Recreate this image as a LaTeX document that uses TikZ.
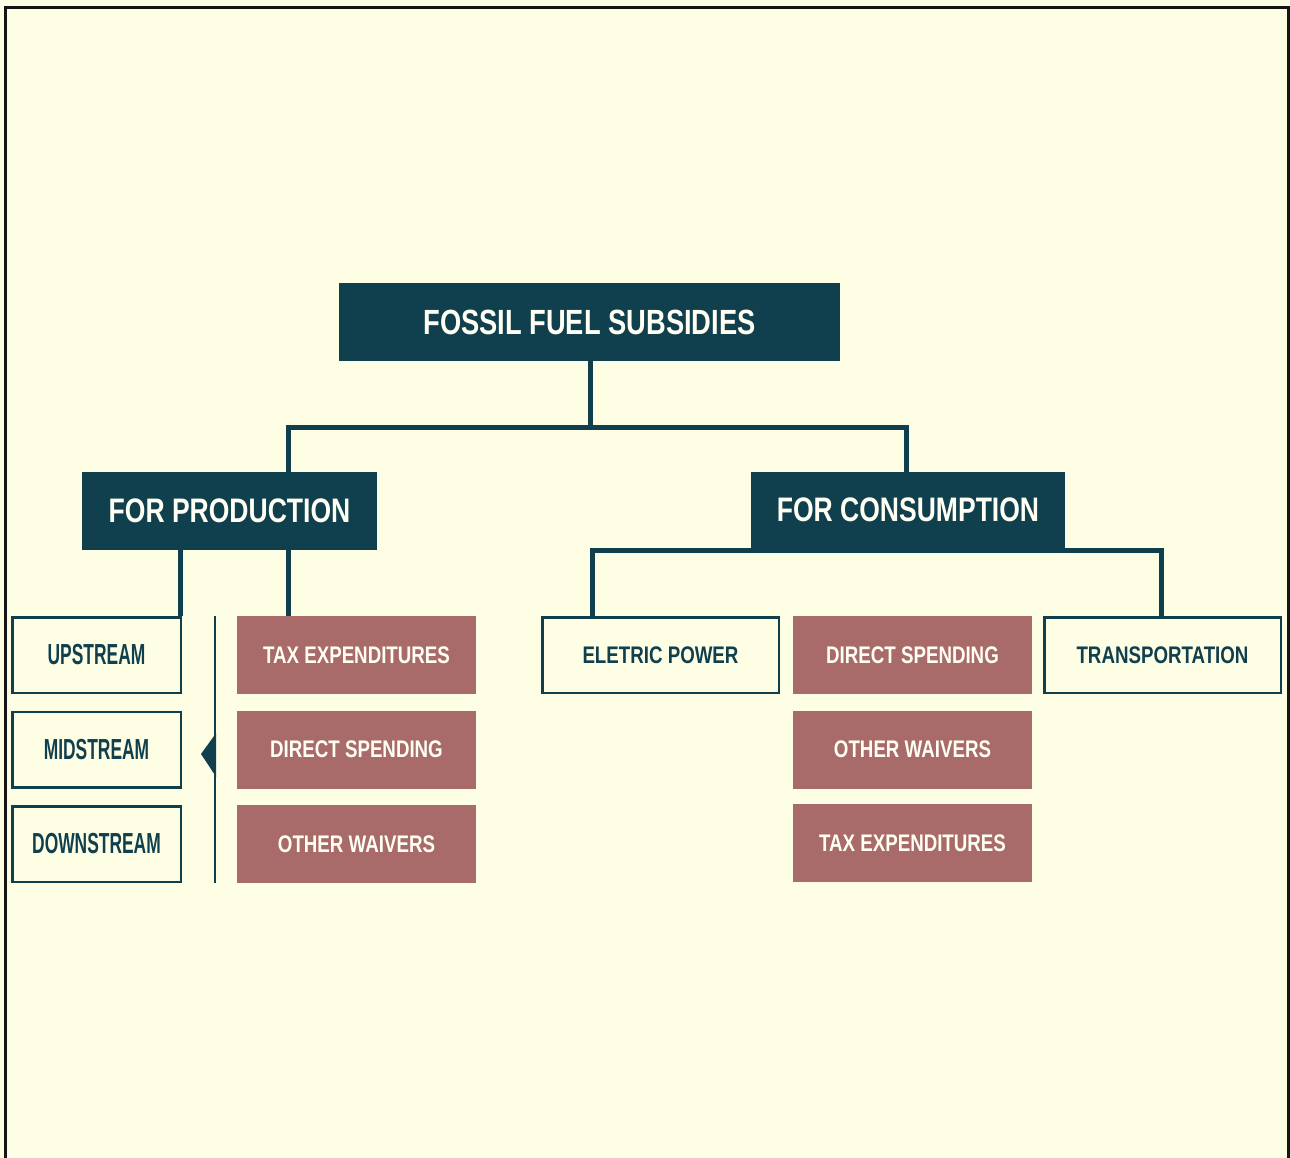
\documentclass[tikz,border=0pt]{standalone}
\usepackage{fontspec}
\setmainfont{Liberation Sans}
\newfontfamily\hfont{Liberation Sans}[FakeStretch=0.78]
\newfontfamily\dfont{Liberation Sans}[FakeStretch=0.6]
\definecolor{teal}{HTML}{10404E}
\definecolor{rose}{HTML}{A96B69}
\definecolor{bgc}{HTML}{FEFEE5}
\definecolor{framec}{HTML}{151515}
\definecolor{txtw}{HTML}{FFFFF4}
\tikzset{
  hdr/.style={fill=teal, text=txtw, inner sep=0, minimum height=78,
    font=\hfont\bfseries\fontsize{34}{40}\selectfont},
  rosebox/.style={fill=rose, text=txtw, inner sep=0, minimum width=239, minimum height=78,
    font=\hfont\bfseries\fontsize{24}{28}\selectfont},
  outbox/.style={draw=teal, line width=2.5, fill=bgc, text=teal, inner sep=0,
    minimum width=236.5, minimum height=75.5,
    font=\hfont\bfseries\fontsize{24}{28}\selectfont},
  streambox/.style={draw=teal, line width=2.5, fill=bgc, text=teal, inner sep=0,
    minimum width=168.5, minimum height=75.5,
    font=\dfont\bfseries\fontsize{29}{34}\selectfont},
  conn/.style={draw=teal, line width=5, line join=miter},
  thin/.style={draw=teal, line width=2.5},
}
\begin{document}
\begin{tikzpicture}[x=1pt, y=-1pt]
\useasboundingbox (0,0) rectangle (1290,1158);
\fill[bgc] (0,0) rectangle (1290,1158);
\draw[framec, line width=3] (5,1160) -- (5,7.5) -- (1288,7.5) -- (1288,1160);

% junction coordinates
\coordinate (j1) at (590,427);
\coordinate (jL) at (288,427);
\coordinate (jR) at (906,427);
\coordinate (pu) at (180,550);
\coordinate (cL) at (592,550);
\coordinate (cR) at (1161,550);
\coordinate (brT) at (215,616);
\coordinate (brB) at (215,883);

% connectors (behind boxes)
\draw[conn] (590,361) -- (j1);
\draw[conn] (288,472) -- (jL) -- (jR) -- (906,472);
\draw[conn] (pu) -- (180,616);
\draw[conn] (288,550) -- (288,616);
\draw[conn] (592,616) -- (cL) -- (cR) -- (1161,616);

% headers
\node[hdr, minimum width=501] (top) at (589.5,322) {\raisebox{-2.5pt}{\fontsize{35}{40}\selectfont FOSSIL FUEL SUBSIDIES}};
\node[hdr, minimum width=295] (prod) at (229.5,511) {FOR PRODUCTION};
\node[hdr, minimum width=314, minimum height=76] (cons) at (908,510) {FOR CONSUMPTION};

% production side
\node[streambox] (up) at (96.5,655) {UPSTREAM};
\node[streambox] (mid) at (96.5,749.5) {MIDSTREAM};
\node[streambox] (down) at (96.5,844) {DOWNSTREAM};

\draw[thin] (brT) -- (brB);
\fill[teal] (201,754) -- (216.2,733) -- (216.2,777) -- cycle;

\node[rosebox] (ptax) at (356.5,655) {TAX EXPENDITURES};
\node[rosebox] (pdir) at (356.5,749.5) {DIRECT SPENDING};
\node[rosebox] (poth) at (356.5,844) {OTHER WAIVERS};

% consumption side
\node[outbox] (elec) at (660.5,655) {ELETRIC POWER};
\node[rosebox] (cdir) at (912.5,655) {DIRECT SPENDING};
\node[rosebox] (coth) at (912.5,749.5) {OTHER WAIVERS};
\node[rosebox] (ctax) at (912.5,843) {TAX EXPENDITURES};
\node[outbox] (trans) at (1162.5,655) {TRANSPORTATION};
\end{tikzpicture}
\end{document}
